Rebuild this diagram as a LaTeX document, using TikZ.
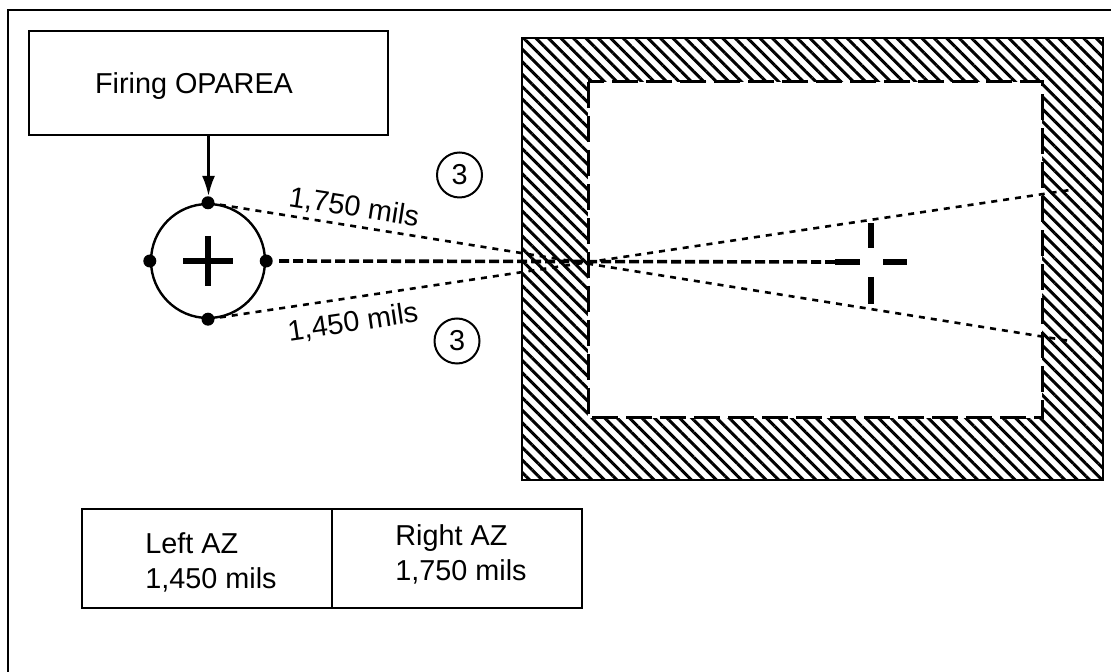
\documentclass[tikz,border=0pt]{standalone}
\usepackage{fontspec}
\setmainfont{Liberation Sans}
\usetikzlibrary{arrows.meta,patterns.meta}

\begin{document}
\begin{tikzpicture}[x=0.5pt,y=-0.5pt,>={Latex[length=10pt,width=6.5pt]},
        font=\fontsize{14.4}{17.5}\selectfont,
        dot/.style={circle,fill,inner sep=0pt,minimum size=6.5pt},
        ring/.style={circle,draw,line width=1pt,inner sep=0pt,
            minimum size=22.5pt},
        cell/.style={draw,line width=1.2pt,inner sep=0pt,
            minimum width=125pt,minimum height=49.5pt},
        sightline/.style={line width=1.3pt,dash pattern=on 3pt off 3pt},
        centreline/.style={line width=1.8pt,dash pattern=on 5pt off 2pt},
        arm/.style={line width=3pt}]
        \useasboundingbox (0,0) rectangle (1111,672);
        \def\wallL{522}
        \def\wallR{1103}
        \def\wallT{38}
        \def\wallB{480}
        \def\roomL{588}
        \def\roomR{1042}
        \def\roomT{82}
        \def\roomB{418}

        % Sheet frame (cut off at right and bottom).
        \draw[line width=1.2pt] (8,672) -- (8,10) -- (1111,10);

        % Impact area: hatched wall round a dashed inner edge.
        \fill[pattern={Lines[angle=-45,distance=4.4pt,line width=1.5pt]}]
            (\wallL,\wallT) rectangle (\wallR,\wallB);
        \fill[white] (\roomL,\roomT) rectangle (\roomR,\roomB);
        \draw[line width=1.2pt] (\wallL,\wallT) rectangle (\wallR,\wallB);
        \draw[line width=1.5pt,dash pattern=on 13pt off 4pt]
            (\roomL,\roomT) rectangle (\roomR,\roomB);

        % Firing position.
        \node[draw,line width=1.2pt,inner sep=0pt,minimum width=179.5pt,
            minimum height=52pt] (oparea) at (208.5,83) {};
        \node (optext) at (194,86) {Firing OPAREA};
        \node[circle,draw,line width=1.2pt,inner sep=0pt,minimum size=57pt]
            (gun) at (208,261) {};
        \node[dot] (dn) at (gun.north) {};
        \node[dot] (ds) at (gun.south) {};
        \node[dot] (de) at (gun.east) {};
        \node[dot] (dw) at (gun.west) {};
        \draw[line width=2.6pt] (183,261) -- (233,261);
        \draw[line width=2.6pt] (208,236) -- (208,286);
        \draw[->,line width=1.2pt] (oparea.south) -- (oparea.south |- dn.north);

        % Lines of fire.
        \coordinate (rtop) at (1070,190);
        \coordinate (rbot) at (1070,341);
        \coordinate (tgt) at (871,262);
        \draw[sightline] (dn.center) -- (rbot);
        \draw[sightline] (ds.center) -- (rtop);
        \draw[centreline] ([xshift=3pt]de.east) -- ([xshift=-18pt]tgt);

        % Aim point.
        \draw[arm] ([xshift=-18pt]tgt) -- ([xshift=-5.5pt]tgt);
        \draw[arm] ([xshift=6pt]tgt) -- ([xshift=18pt]tgt);
        \draw[arm] ([yshift=19.5pt]tgt) -- ([yshift=7pt]tgt);
        \draw[arm] ([yshift=-7.5pt]tgt) -- ([yshift=-21pt]tgt);

        % Azimuth labels.
        \node[rotate=-9] (rlabel) at (354,208) {1,750 mils};
        \node[rotate=8.5] (llabel) at (353,323) {1,450 mils};
        \node[ring] (nthree) at (459.5,175) {3};
        \node[ring] (sthree) at (457,341) {3};

        % Azimuth limits table.
        \node[cell] (leftcell) at (207,558.5) {};
        \node[cell] (rightcell) at (457,558.5) {};
        \node[align=left] (lefttext) at (211,562) {Left AZ\\1,450 mils};
        \node[align=left] (righttext) at (461,554) {Right AZ\\1,750 mils};
    \end{tikzpicture}
\end{document}
